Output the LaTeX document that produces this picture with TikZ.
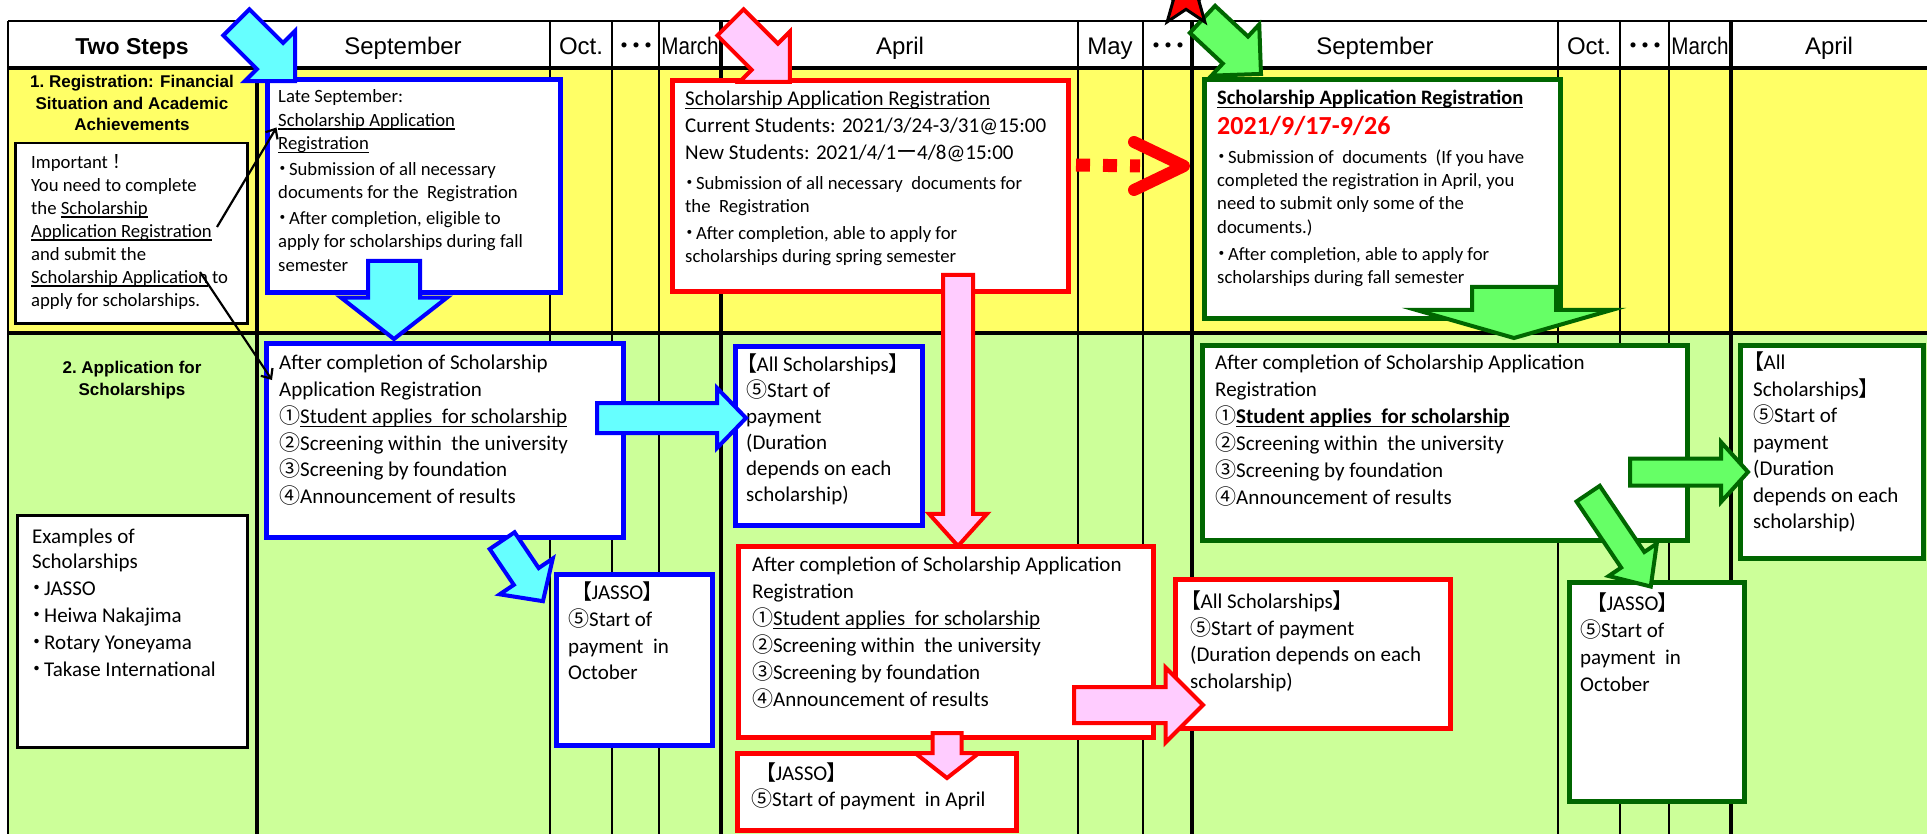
\documentclass[tikz,border=0pt]{standalone}
\usepackage{fontspec}
\setmainfont{Carlito}
\newfontfamily\gothicfont{Liberation Sans}
\newfontfamily\cjkfont{Noto Sans CJK JP}
\newfontfamily\cjkpfont{Noto Sans CJK JP}[RawFeature=+palt]
\usetikzlibrary{positioning,calc,shapes.arrows,shapes.geometric,arrows.meta}
\definecolor{rowyellow}{RGB}{255,255,102}
\definecolor{rowgreen}{RGB}{204,255,153}
\definecolor{lightcyan}{RGB}{102,255,255}
\definecolor{lightpink}{RGB}{255,204,255}
\definecolor{lightgreen}{RGB}{102,255,102}
\definecolor{darkgreen}{RGB}{0,102,0}
\newcommand{\jp}[1]{{\cjkpfont #1}}
\newcommand{\cn}[1]{{\cjkfont #1}}
\newcommand{\mdot}{\jp{・}\kern1.5pt}
\newcommand{\ulined}[1]{{\setbox0=\hbox{#1}\rlap{\rule[-3.5pt]{\wd0}{1.3pt}}\box0}}
\newcommand{\textnormalsize}{\fontsize{21}{26.8}\selectfont}
\newcommand{\textsmallsize}{\fontsize{18.7}{23.5}\selectfont}
\tikzset{
    box/.style={rectangle, fill=white, anchor=north west, inner sep=0pt},
    bluebox/.style={box, draw=blue, line width=5pt},
    redbox/.style={box, draw=red, line width=5pt},
    greenbox/.style={box, draw=darkgreen, line width=5pt},
    plainbox/.style={box, draw=black, line width=2.5pt},
    txt/.style={anchor=north west, align=left, inner sep=0pt, font=\textnormalsize, execute at begin node=\strut},
    smalltxt/.style={txt, font=\textsmallsize},
    colhead/.style={anchor=base, inner sep=0pt, font=\gothicfont\fontsize{24}{28}\selectfont},
    rowhead/.style={anchor=north, align=center, inner sep=0pt, font=\gothicfont\bfseries\fontsize{17}{21.5}\selectfont},
    blockarrow/.style={single arrow, anchor=tail, inner xsep=0pt, line width=4pt, line join=miter},
    arrowsize/.style n args={4}{minimum height=#1, inner ysep=#2, single arrow head extend=#3, single arrow tip angle=#4},
    cyanarrow/.style={blockarrow, draw=blue, fill=lightcyan},
    pinkarrow/.style={blockarrow, draw=red, fill=lightpink},
    greenarrow/.style={blockarrow, draw=darkgreen, fill=lightgreen},
    thinrule/.style={line width=1.3pt},
    thickrule/.style={line width=3.5pt},
    pointer/.style={-{Straight Barb[length=8pt,width=14pt]}, line width=2.2pt},
    hop/.style={draw=red, line width=13pt, dash pattern=on 14pt off 13pt},
    chevron/.style={draw=red, line width=12pt, line cap=round, line join=round}
}

\begin{document}
\begin{tikzpicture}[x=1pt, y=-1pt]
\useasboundingbox (0,0) rectangle (1927,834);
\clip (0,0) rectangle (1927,834);
\fill[white] (0,0) rectangle (1927,834);
\fill[rowyellow] (8,68) rectangle (1927,333);
\fill[rowgreen] (8,333) rectangle (1927,834);
\foreach \x in {550,612,659,1078,1143,1558,1620,1669}
    \draw[thinrule] (\x,21) -- (\x,834);
\foreach \x in {257,721,1192,1731}
    \draw[thickrule] (\x,21) -- (\x,834);
\draw[thinrule] (8,21) -- (1927,21);
\draw[thickrule] (8,68) -- (1927,68) (8,333) -- (1927,333);
\draw[line width=2pt] (8,21) -- (8,834);

\node[colhead, font=\gothicfont\bfseries\fontsize{23}{28}\selectfont] (hsteps) at (132,55) {Two Steps};
\foreach \x/\month [count=\i] in {403/September, 581/Oct., 636/\jp{・・・}, 690/\scalebox{0.86}[1]{March}, 900/April, 1110/May, 1168/\jp{・・・}, 1375/September, 1589/Oct., 1645/\jp{・・・}, 1700/\scalebox{0.86}[1]{March}, 1829/April}
    \node[colhead] (hmonth\i) at (\x,55) {\month};

\node[rowhead] (step1) at (132,75) {1.~Registration: Financial\\Situation and Academic\\Achievements};
\node[rowhead] (step2) at (132,361) {2.~Application for\\Scholarships};

\node[plainbox, minimum width=232, minimum height=180] (imp) at (14,142) {};
\node[smalltxt, font=\fontsize{18.7}{23}\selectfont] (imptext) at ([shift={(17,12)}]imp.north west)
    {Important\cn{！}\\You need to complete\\the \ulined{Scholarship}\\\ulined{Application Registration}\\and submit the\\\ulined{Scholarship Application} to\\apply for scholarships.};
\node[plainbox, minimum width=230, minimum height=232] (ex) at (16,514) {};
\node[txt, font=\fontsize{21}{27}\selectfont] (extext) at ([shift={(16,15)}]ex.north west)
    {Examples of\\[-2pt]Scholarships\\\mdot JASSO\\\mdot Heiwa Nakajima\\\mdot Rotary Yoneyama\\\mdot Takase International};

\node[bluebox, minimum width=293, minimum height=213] (regS) at (264.5,77.5) {};
\node[smalltxt] (regStext) at ([shift={(13.5,12)}]regS.north west)
    {Late September:\\\ulined{Scholarship Application}\\\ulined{Registration}\\[2pt]\mdot Submission of all necessary\\documents for the~ Registration\\[2pt]\mdot After completion, eligible to\\apply for scholarships during fall\\semester};

\node[redbox, minimum width=396, minimum height=211] (regA) at (669.5,78.5) {};
\node[txt] (regAhead) at ([shift={(15.5,12.5)}]regA.north west)
    {\ulined{Scholarship Application Registration}\\Current Students: 2021/3/24-3/31@15:00\\New Students: 2021/4/1\cn{ー}4/8@15:00};
\node[smalltxt] (regAbody) at ([shift={(15.5,97.5)}]regA.north west)
    {\mdot Submission of all necessary~ documents for\\the~ Registration\\[3pt]\mdot After completion, able to apply for\\scholarships during spring semester};

\node[greenbox, minimum width=356, minimum height=238] (regF) at (1201.5,77.5) {};
\node[txt, font=\bfseries\fontsize{20.5}{26}\selectfont] (regFhead) at ([shift={(15.5,9)}]regF.north west)
    {\ulined{Scholarship Application Registration}};
\node[txt, red, font=\bfseries\fontsize{26}{30}\selectfont] (regFdate) at ([shift={(15.5,36)}]regF.north west) {2021/9/17-9/26};
\node[smalltxt, font=\fontsize{18.7}{23.3}\selectfont] (regFbody) at ([shift={(15.5,72)}]regF.north west)
    {\mdot Submission of~ documents~ (If you have\\completed the registration in April, you\\need to submit only some of the\\documents.)\\[3.5pt]\mdot After completion, able to apply for\\scholarships during fall semester};

\node[bluebox, minimum width=357, minimum height=194] (appS) at (263.5,340.5) {};
\node[txt] (appStext) at ([shift={(15.5,14.5)}]appS.north west)
    {After completion of Scholarship\\Application Registration\\\cn{①}\ulined{Student applies~ for scholarship}\\\cn{②}Screening within~ the university\\\cn{③}Screening by foundation\\\cn{④}Announcement of results};

\node[bluebox, minimum width=187, minimum height=179] (allA) at (732.5,343.5) {};
\node[txt, font=\fontsize{21}{26}\selectfont] (allAtext) at ([shift={(13.5,10.5)}]allA.north west)
    {\jp{【}All Scholarships\jp{】}\\\cn{⑤}Start of\\payment\\(Duration\\depends on each\\scholarship)};

\node[bluebox, minimum width=156, minimum height=171] (jassoO) at (553.5,571.5) {};
\node[txt] (jassoOtext) at ([shift={(14.5,10)}]jassoO.north west)
    {\hspace*{13pt}\jp{【}JASSO\jp{】}\\\cn{⑤}Start of\\payment~ in\\October};

\node[redbox, minimum width=415, minimum height=191] (appA) at (735.5,543.5) {};
\node[txt, font=\fontsize{21}{27}\selectfont] (appAtext) at ([shift={(16.5,13.5)}]appA.north west)
    {After completion of Scholarship Application\\Registration\\\cn{①}\ulined{Student applies~ for scholarship}\\\cn{②}Screening within~ the university\\\cn{③}Screening by foundation\\\cn{④}Announcement of results};

\node[redbox, minimum width=279, minimum height=77] (jassoA) at (734.5,750.5) {};
\node[txt, font=\fontsize{21}{26}\selectfont] (jassoAtext) at ([shift={(16.5,12.5)}]jassoA.north west)
    {\hspace*{14pt}\jp{【}JASSO\jp{】}\\\cn{⑤}Start of payment~ in April};

\node[redbox, minimum width=275, minimum height=149] (allB) at (1172.5,576.5) {};
\node[txt, font=\fontsize{21}{26.7}\selectfont] (allBtext) at ([shift={(17.5,14)}]allB.north west)
    {\jp{【}All Scholarships\jp{】}\\\cn{⑤}Start of payment\\(Duration depends on each\\scholarship)};

\node[greenbox, minimum width=485, minimum height=195] (appF) at (1199.5,342.5) {};
\node[txt, font=\fontsize{21}{27}\selectfont] (appFtext) at ([shift={(15.5,12.5)}]appF.north west)
    {After completion of Scholarship Application\\Registration\\\cn{①}\textbf{\ulined{Student applies~ for scholarship}}\\\cn{②}Screening within~ the university\\\cn{③}Screening by foundation\\\cn{④}Announcement of results};

\node[greenbox, minimum width=183, minimum height=213] (allF) at (1737.5,342.5) {};
\node[txt, font=\fontsize{21}{26.5}\selectfont] (allFtext) at ([shift={(15.5,9.5)}]allF.north west)
    {\jp{【}All\\Scholarships\jp{】}\\\cn{⑤}Start of\\payment\\(Duration\\depends on each\\scholarship)};

\node[greenbox, minimum width=175, minimum height=219] (jassoF) at (1566.5,579.5) {};
\node[txt, font=\fontsize{21}{26.7}\selectfont] (jassoFtext) at ([shift={(13.5,13.5)}]jassoF.north west)
    {\hspace*{16pt}\jp{【}JASSO\jp{】}\\\cn{⑤}Start of\\payment~ in\\October};

\node[cyanarrow, rotate=-45, arrowsize={83}{16.5}{17}{90}] (arrSin) at (235,21) {};
\node[pinkarrow, rotate=-45, arrowsize={84}{16.5}{17}{90}] (arrAin) at (729,21) {};
\node[greenarrow, rotate=-43, arrowsize={80}{16.5}{16.5}{90}] (arrFin) at (1201,18) {};
\node[cyanarrow, rotate=-90, arrowsize={78}{24}{27}{104}] (arrSdown) at (394,259) {};
\node[pinkarrow, rotate=-90, arrowsize={271}{13}{14}{84}] (arrAdown) at (958,273) {};
\node[pinkarrow, rotate=-90, arrowsize={45}{12.5}{17.5}{104}] (arrAjasso) at (947,731) {};
\node[pinkarrow, arrowsize={129}{16}{19.5}{90}] (arrAall) at (1072,705) {};
\node[cyanarrow, arrowsize={149}{13}{15}{92}] (arrSall) at (595,418) {};
\node[cyanarrow, rotate=-56, arrowsize={73}{13}{17}{94}] (arrSjasso) at (501,539) {};
\node[greenarrow, arrowsize={118}{11.5}{16.5}{96}] (arrFall) at (1628,472) {};
\node[greenarrow, rotate=-90, arrowsize={51}{40}{56}{148}] (arrFdown) at (1514,285) {};
\node[greenarrow, rotate=-56, arrowsize={112}{12}{15}{84}] (arrFjasso) at (1587,492) {};

\node[star, star points=5, star point ratio=2.4, minimum size=64, inner sep=0pt, fill=red, draw=black, line width=3pt] (mark) at (1186,-4) {};

\coordinate (impreg) at ([shift={(203,85)}]imp.north west);
\coordinate (impapp) at ([shift={(186,130)}]imp.north west);
\coordinate (regSin) at ([shift={(12,50)}]regS.north west);
\coordinate (appSin) at ([shift={(8.5,39.5)}]appS.north west);
\draw[pointer] (impreg) -- (regSin);
\draw[pointer] (impapp) -- (appSin);

\coordinate (hopstart) at ([shift={(5.5,86.5)}]regA.north east);
\coordinate (hoptip) at ([shift={(-17.5,88.5)}]regF.north west);
\draw[hop] (hopstart) -- ([xshift=-44]hoptip);
\draw[chevron] ([shift={(-50,-24)}]hoptip) -- (hoptip) -- ([shift={(-50,24)}]hoptip);
\end{tikzpicture}
\end{document}
